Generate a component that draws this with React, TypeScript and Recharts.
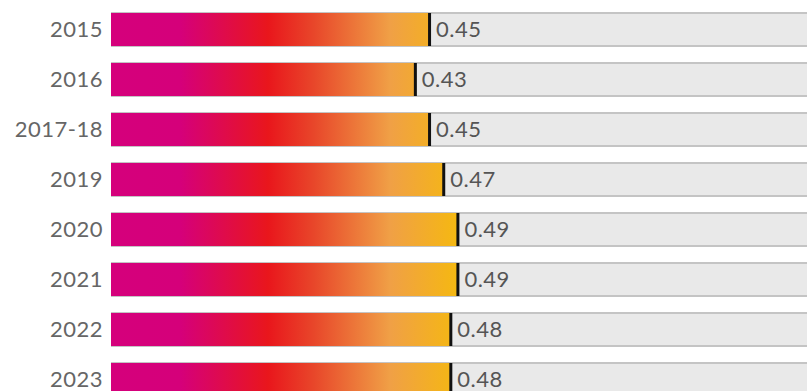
import { BarChart, Bar, XAxis, YAxis, LabelList } from 'recharts'

const years = ['2015', '2016', '2017-18', '2019', '2020', '2021', '2022', '2023']
const values = [0.45, 0.43, 0.45, 0.47, 0.49, 0.49, 0.48, 0.48]

const data = years.map((year, i) => ({ year, value: values[i] }))

const FONT = 'Lato, "Open Sans", sans-serif'

function TrackShape(props: any) {
  const { x, y, width, height } = props
  return (
    <g>
      <rect x={x} y={y} width={width} height={height} fill="#e9e9e9" />
      <rect x={x} y={y - 1} width={width} height={2} fill="#c4c4c4" />
      <rect x={x} y={y + height - 1} width={width} height={2} fill="#c4c4c4" />
    </g>
  )
}

function GradientBar(props: any) {
  const { x, y, width, height } = props
  return (
    <g>
      <rect x={x} y={y} width={width} height={height} fill="url(#barFill)" />
      <rect x={x + width - 2} y={y} width={3} height={height} fill="#111111" />
    </g>
  )
}

export default function App() {
  return (
    <div
      style={{
        position: 'absolute',
        left: 0,
        top: 0,
        width: 807,
        height: 391,
        overflow: 'hidden',
        background: '#ffffff'
      }}
    >
      <BarChart
        width={830}
        height={404}
        data={data}
        layout="vertical"
        margin={{ top: 4, right: 10, left: 0, bottom: 0 }}
      >
        <defs>
          <linearGradient id="barFill" gradientUnits="userSpaceOnUse" x1={111} y1={0} x2={460} y2={0}>
            <stop offset="0" stopColor="#d5007c" />
            <stop offset="0.2" stopColor="#d5007a" />
            <stop offset="0.45" stopColor="#e9161c" />
            <stop offset="0.58" stopColor="#e8462a" />
            <stop offset="0.8" stopColor="#f0a046" />
            <stop offset="1" stopColor="#f5b90f" />
          </linearGradient>
        </defs>
        <XAxis type="number" domain={[0, 1]} hide />
        <YAxis
          type="category"
          dataKey="year"
          width={111}
          tickLine={false}
          axisLine={false}
          tick={{ fontSize: 22, fill: '#666666', fontFamily: FONT, letterSpacing: 0.5 }}
        />
        <Bar
          dataKey="value"
          barSize={33}
          isAnimationActive={false}
          background={(p: any) => <TrackShape {...p} />}
          shape={(p: any) => <GradientBar {...p} />}
        >
          <LabelList
            dataKey="value"
            position="right"
            offset={6}
            formatter={(v: any) => Number(v).toFixed(2)}
            style={{ fontSize: 22, fill: '#555555', fontFamily: FONT, letterSpacing: 0.5 }}
          />
        </Bar>
      </BarChart>
    </div>
  )
}
